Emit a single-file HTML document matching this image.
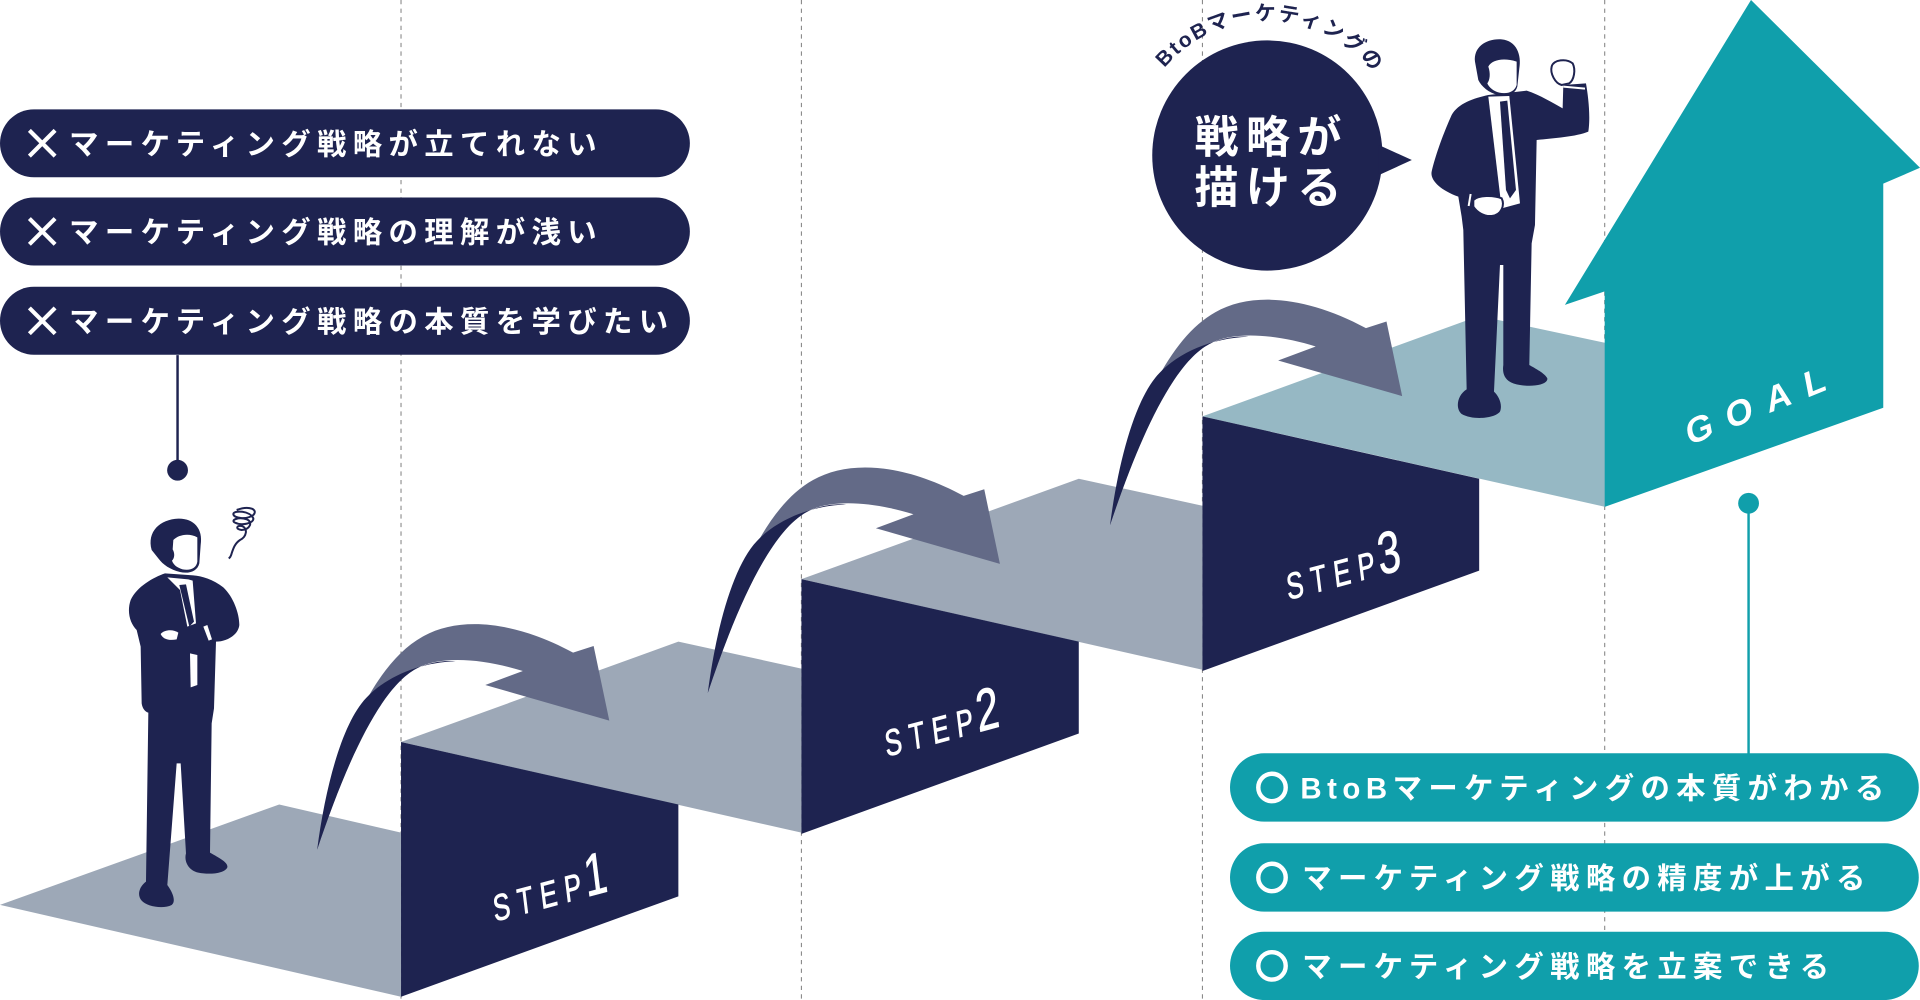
<!DOCTYPE html>
<html><head><meta charset="utf-8"><style>
html,body{margin:0;padding:0;background:#fff;}
svg{display:block;}
.jp{font-family:"Liberation Sans","Noto Sans CJK JP",sans-serif;font-weight:700;}
</style></head><body>
<svg width="1920" height="1000" viewBox="0 0 1568 816.67" preserveAspectRatio="none" xmlns="http://www.w3.org/2000/svg">
<rect x="0" y="0" width="1568" height="817" fill="#fff"/>
<!-- dashed guides -->
<g stroke="#8a8a8a" stroke-width="0.9" stroke-dasharray="3.5 3.5" fill="none">
<line x1="327.5" y1="0" x2="327.5" y2="817"/>
<line x1="654.5" y1="0" x2="654.5" y2="817"/>
<line x1="982" y1="0" x2="982" y2="817"/>
<line x1="1310.5" y1="0" x2="1310.5" y2="817"/>
</g>
<!-- ground -->
<polygon fill="#9da8b7" points="0,739 228,657 327.5,680 327.5,814"/>
<!-- step1 -->
<polygon fill="#9da8b7" points="327.5,606 554,524 654.5,546 654.5,680"/>
<polygon fill="#1e2350" points="327.5,606 554,657 554,732 327.5,814"/>
<!-- step2 -->
<polygon fill="#9da8b7" points="654.5,473 881,391 982,413 982,547"/>
<polygon fill="#1e2350" points="654.5,473 881,524 881,599 654.5,681"/>
<!-- step3 -->
<polygon fill="#96b8c4" points="982,340 1208,258 1311,280 1311,414"/>
<polygon fill="#1e2350" points="982,340 1208,391 1208,466 982,548"/>
<!-- arrows -->
<defs>
<g id="arw">
<path fill="#636a87" d="M259,694 C272,625 300,545 345,520 C375,503 420,507 468,533 L484.8,527.6 L497.6,588.5 L396.3,559.4 L427,548 C395,538 360,535 340,546 C310,562 282,625 259,694 Z"/>
<path fill="#1e2350" d="M259,694 C266,640 280,590 299,570 C315,553 342,541 372,540 C360,539 348,542 340,546 C310,562 282,625 259,694 Z"/>
</g>
<path id="arcp" d="M951,55.5 A110,110 0 0 1 1131,73" fill="none"/>
</defs>
<use href="#arw"/>
<use href="#arw" transform="translate(319,-128)"/>
<use href="#arw" transform="translate(647.5,-265)"/>
<!-- house -->
<polygon fill="#109fab" points="1430,0 1568,137 1538,150 1538,333 1310.5,414 1310.5,238 1278,249"/>
<!-- STEP labels -->
<g fill="#fff" stroke="#fff" stroke-width="0.7" font-family="Liberation Sans, sans-serif">
<g transform="translate(404,752.7) rotate(-7) skewY(-8) scale(0.7,1)">
<text x="0" y="0" font-size="30" letter-spacing="9">STEP</text>
<text x="110" y="0" font-size="48">1</text>
</g>
<g transform="translate(724,618) rotate(-7) skewY(-8) scale(0.7,1)">
<text x="0" y="0" font-size="30" letter-spacing="9">STEP</text>
<text x="110" y="0" font-size="48">2</text>
</g>
<g transform="translate(1052,490) rotate(-7) skewY(-8) scale(0.7,1)">
<text x="0" y="0" font-size="30" letter-spacing="9">STEP</text>
<text x="110" y="0" font-size="48">3</text>
</g>
</g>
<g fill="#fff" font-family="Liberation Sans, sans-serif">
<g transform="translate(1379,364) rotate(-11) skewY(-11)">
<text x="0" y="0" font-size="29" font-weight="700" letter-spacing="12">GOAL</text>
</g>
</g>
<!-- man 1 (thinking) -->
<g transform="translate(89.83,400.16) scale(0.27222)">
<path fill="#1e2350" d="M165,250 C130,262 80,290 62,330 C50,365 60,400 80,420 L92,470 L95,640 C97,655 105,665 115,668 L108,1175 C88,1190 80,1215 95,1232 C110,1250 160,1258 185,1245 C198,1235 190,1210 172,1185 L200,820 L212,820 L228,1090 C222,1110 232,1140 265,1148 C300,1155 345,1150 352,1132 C355,1118 330,1105 300,1088 L305,700 L312,655 L318,455 C350,455 385,435 388,405 C388,370 370,320 340,292 C310,268 275,258 250,256 Z"/>
<path fill="#1e2350" d="M125,180 C110,125 150,88 205,86 C250,85 280,115 272,165 L268,220 C262,245 235,252 210,246 C180,238 160,225 145,205 Z"/>
<path fill="#fff" d="M190,150 C205,135 235,128 262,142 L262,215 C259,236 240,242 218,238 C200,233 190,224 186,212 C194,204 195,190 188,178 Z"/>
<path fill="#fff" d="M172,262 L210,300 L232,410 L258,400 L248,272 L235,268 Z"/>
<path fill="#1e2350" d="M208,285 L228,283 L252,395 L238,410 Z"/>
<path fill="#fff" d="M240,490 L262,495 L262,585 L242,592 Z"/>
<path fill="#fff" d="M152,432 C165,418 190,418 205,428 L200,448 C180,452 160,450 152,432 Z"/>
<path fill="#fff" d="M280,410 L292,405 L306,448 L296,452 Z"/>
<path fill="none" stroke="#1e2350" stroke-width="6" d="M380,60 C420,45 445,60 430,75 C410,90 370,85 370,72 C372,60 420,62 430,85 C432,100 395,108 375,98 C360,90 385,80 410,88 C430,95 420,120 395,120 C375,118 380,105 395,108 C415,115 410,140 390,150 C375,160 370,175 365,190 C363,198 360,203 356,205"/>
</g>
<!-- man 2 (goal) -->
<g transform="translate(1159.65,24.5) scale(0.27222)">
<path fill="#1e2350" d="M205,195 C160,205 115,220 95,255 C70,310 45,380 35,425 C30,450 60,480 115,500 L125,560 L130,600 L140,1078 C112,1095 105,1135 125,1152 C160,1172 225,1165 240,1145 C248,1125 238,1100 222,1085 L240,705 L250,705 L250,1005 C245,1040 262,1060 300,1065 C345,1072 385,1062 382,1045 C375,1030 345,1015 328,1005 L335,640 L345,585 L350,330 C400,325 470,320 505,305 C512,260 505,200 498,160 L430,165 L428,235 C400,220 360,195 320,182 Z"/>
<path fill="#1e2350" d="M165,95 C160,50 200,25 245,28 C290,32 305,75 298,115 L292,170 C285,195 260,200 235,195 C205,188 185,170 175,150 Z"/>
<path fill="#fff" d="M205,110 C215,90 250,82 290,95 L290,165 C283,188 260,192 238,188 C220,183 207,172 202,160 C210,150 212,130 205,110 Z"/>
<path fill="#fff" d="M205,200 L268,198 L300,520 L245,535 Z"/>
<path fill="#1e2350" d="M240,215 L262,212 L288,480 L270,505 L258,480 Z"/>
<path fill="#fff" stroke="#1e2350" stroke-width="6" d="M395,110 C400,88 440,85 458,100 C468,120 462,150 448,160 L425,165 C405,160 390,130 395,110 Z"/>
<path fill="none" stroke="#fff" stroke-width="6" d="M430,170 L495,176"/>
<path fill="#fff" stroke="#1e2350" stroke-width="6" d="M160,510 C175,495 220,495 245,505 C255,525 245,555 215,558 C190,560 170,545 160,530 Z"/>
<path fill="none" stroke="#fff" stroke-width="6" d="M152,492 L146,528"/>
</g>
<!-- left connector -->
<line x1="145" y1="290" x2="145" y2="384" stroke="#1e2350" stroke-width="2"/>
<circle cx="145" cy="384" r="8.5" fill="#1e2350"/>
<!-- left pills -->
<g fill="#1e2350">
<rect x="0" y="89.3" width="563.4" height="55.5" rx="27.75"/>
<rect x="0" y="161.3" width="563.4" height="55.5" rx="27.75"/>
<rect x="0" y="234.2" width="563.4" height="55.5" rx="27.75"/>
</g>
<g stroke="#fff" stroke-width="3.4" fill="none">
<path d="M24,106.5 L45,127.5 M45,106.5 L24,127.5"/>
<path d="M24,178.5 L45,199.5 M45,178.5 L24,199.5"/>
<path d="M24,251.5 L45,272.5 M45,251.5 L24,272.5"/>
</g>
<g class="jp" fill="#fff" font-size="24" letter-spacing="5.2">
<text x="56.5" y="126.2">マーケティング戦略が立てれない</text>
<text x="56.5" y="198.1">マーケティング戦略の理解が浅い</text>
<text x="56.5" y="271.1">マーケティング戦略の本質を学びたい</text>
</g>
<!-- right connector -->
<line x1="1428" y1="411" x2="1428" y2="616" stroke="#109fab" stroke-width="2"/>
<circle cx="1428" cy="411" r="8.5" fill="#109fab"/>
<!-- right pills -->
<g fill="#109fab">
<rect x="1004.5" y="615.2" width="562.5" height="55.8" rx="27.9"/>
<rect x="1004.5" y="688.7" width="562.5" height="55.8" rx="27.9"/>
<rect x="1004.5" y="760.9" width="562.5" height="55.8" rx="27.9"/>
</g>
<g stroke="#fff" stroke-width="3.6" fill="none">
<circle cx="1038.8" cy="643.1" r="11.2"/>
<circle cx="1038.8" cy="716.6" r="11.2"/>
<circle cx="1038.8" cy="788.8" r="11.2"/>
</g>
<g class="jp" fill="#fff" font-size="24" letter-spacing="5.2">
<text x="1062" y="652.2"><tspan letter-spacing="4.5">BtoB</tspan>マーケティングの本質がわかる</text>
<text x="1063.5" y="725.7">マーケティング戦略の精度が上がる</text>
<text x="1063.5" y="797.9">マーケティング戦略を立案できる</text>
</g>
<!-- speech bubble -->
<circle cx="1035" cy="127" r="94" fill="#1e2350"/>
<polygon fill="#1e2350" points="1126,118.4 1153,130.7 1126,143"/>
<g class="jp" fill="#fff" font-size="36" letter-spacing="6">
<text x="975.5" y="124.7">戦略が</text>
<text x="975.5" y="166">描ける</text>
</g>
<text class="jp" font-size="17" fill="#1e2350" letter-spacing="1.8"><textPath href="#arcp">BtoBマーケティングの</textPath></text>
</svg>
</body></html>
